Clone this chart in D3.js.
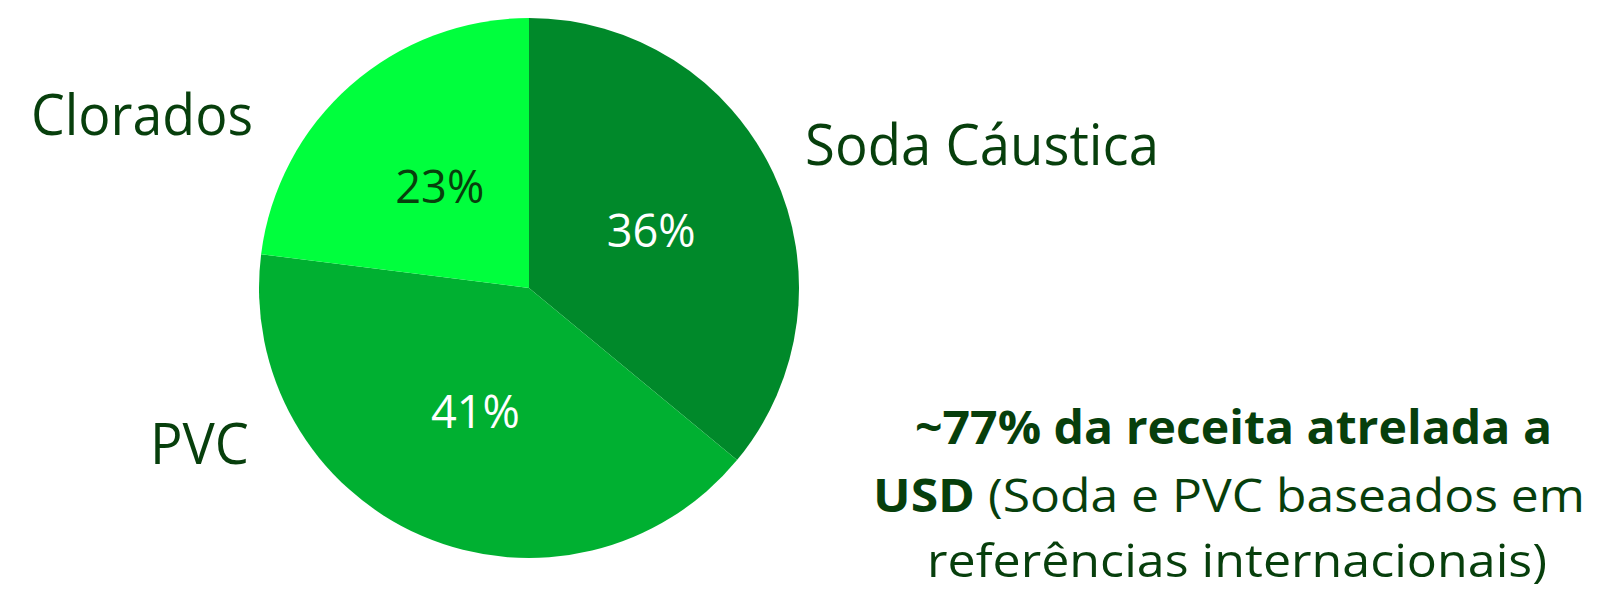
<!DOCTYPE html>
<html>
<head>
<meta charset="utf-8">
<script src="https://cdnjs.cloudflare.com/ajax/libs/d3/7.8.5/d3.min.js"></script>
<style>
  html, body { margin: 0; padding: 0; background: #fff; }
  text { font-family: "Open Sans", "Noto Sans", sans-serif; }
</style>
</head>
<body>
<script>
// data
var categories = ["Soda Cáustica", "PVC", "Clorados"];
var shares     = [36, 41, 23];
var pctLabels  = ["36%", "41%", "23%"];
var noteLines  = [
  [{t: "~77% da receita atrelada a", b: true}],
  [{t: "USD", b: true}, {t: " (Soda e PVC baseados em", b: false}],
  [{t: "referências internacionais)", b: false}]
];

var width = 1606,
    height = 591,
    cx = 529,
    cy = 288,
    r = 270;

var sliceColors = ["#00892a", "#00b031", "#00ff3d"],
    pctColors   = ["#ffffff", "#ffffff", "#073f0c"],
    darkText    = "#073f0c";

// where the category names sit (x, baseline, width)
var catPos = [
  {x: 805, y: 165, w: 354},
  {x: 150, y: 464, w: 99},
  {x: 31,  y: 135, w: 222}
];
var notePos = [
  {x: 915, y: 444, w: 637},
  {x: 873, y: 512, w: 712},
  {x: 927, y: 577, w: 620}
];

var svg = d3.select("body").append("svg")
    .attr("width", width)
    .attr("height", height);

var pie = d3.pie().sort(null).value(function(d) { return d; });
var arc = d3.arc().innerRadius(0).outerRadius(r);

var slices = pie(shares);

var g = svg.append("g")
    .attr("transform", "translate(" + cx + "," + cy + ")");

g.selectAll("path.slice")
    .data(slices)
  .enter().append("path")
    .attr("class", "slice")
    .attr("d", arc)
    .attr("fill", function(d, i) { return sliceColors[i]; });

g.selectAll("text.pct")
    .data(slices)
  .enter().append("text")
    .attr("class", "pct")
    .attr("x", function(d) { return arc.centroid(d)[0]; })
    .attr("y", function(d) { return arc.centroid(d)[1]; })
    .attr("dy", "0.36em")
    .attr("text-anchor", "middle")
    .attr("font-size", 46)
    .attr("textLength", 89)
    .attr("lengthAdjust", "spacingAndGlyphs")
    .attr("fill", function(d, i) { return pctColors[i]; })
    .text(function(d, i) { return pctLabels[i]; });

svg.selectAll("text.cat")
    .data(categories)
  .enter().append("text")
    .attr("class", "cat")
    .attr("x", function(d, i) { return catPos[i].x; })
    .attr("y", function(d, i) { return catPos[i].y; })
    .attr("font-size", 56)
    .attr("textLength", function(d, i) { return catPos[i].w; })
    .attr("lengthAdjust", "spacingAndGlyphs")
    .attr("fill", darkText)
    .text(function(d) { return d; });

// note at bottom right
noteLines.forEach(function(line, i) {
  var t = svg.append("text")
      .attr("x", notePos[i].x)
      .attr("y", notePos[i].y)
      .attr("font-size", 46)
      .attr("fill", darkText)
      .attr("textLength", notePos[i].w)
      .attr("lengthAdjust", "spacingAndGlyphs");
  line.forEach(function(part) {
    t.append("tspan")
      .attr("font-weight", part.b ? "bold" : "normal")
      .text(part.t);
  });
});
</script>
</body>
</html>
